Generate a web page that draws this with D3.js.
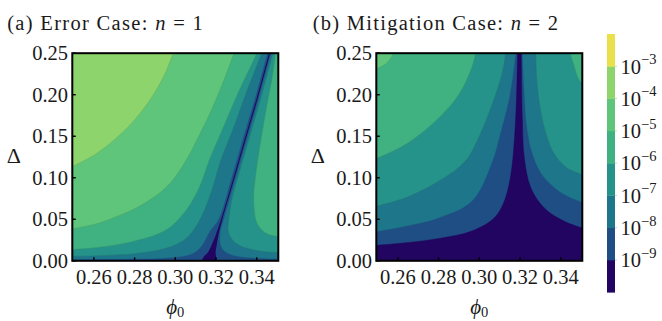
<!DOCTYPE html>
<html><head><meta charset="utf-8">
<script src="https://cdn.jsdelivr.net/npm/d3@7"></script>
<style>
body{margin:0;background:#fff}
svg{display:block}
text{font-family:"Liberation Serif","DejaVu Serif",serif;fill:#1a1a1a}
</style>
</head><body>
<svg id="c" width="662" height="321"></svg>
<script>
// ---------- data ----------
const phiTicks = [0.26, 0.28, 0.30, 0.32, 0.34];
const deltaTicks = [0.00, 0.05, 0.10, 0.15, 0.20, 0.25];
const cbarLevels = [-10, -9, -8, -7, -6, -5, -4, -3, -2];
const cbarTickLevels = [-9, -8, -7, -6, -5, -4, -3];
// band colours for [-10,-9], [-9,-8], ..., [-3,-2]
const bandColors = ["#210560", "#1e4e83", "#1e768a", "#26938b", "#40b180", "#5ec57a", "#8cd46b", "#e9e04c"];

// Panel (a): contour lines in (phi0, Delta)
const aC4L = [[0.25,0.110],[0.2606,0.128],[0.272,0.150],[0.2801,0.170],[0.2882,0.196],[0.2947,0.224],[0.2996,0.25]];
const aC5L = [[0.25,0.037],[0.262,0.045],[0.2713,0.0534],[0.28,0.0625],[0.2876,0.0735],[0.294,0.085],[0.2989,0.0976],[0.3055,0.1217],[0.3105,0.145],[0.3175,0.18],[0.3235,0.215],[0.3295,0.25]];
const aC6L = [[0.25,0.0129],[0.2638,0.0165],[0.2794,0.0233],[0.2957,0.0373],[0.3055,0.0614],[0.312,0.0895],[0.3168,0.1217],[0.3235,0.16],[0.3305,0.2],[0.3409,0.25]];
const aC7L = [[0.25,0.0052],[0.265,0.0065],[0.2794,0.0084],[0.2957,0.0153],[0.3055,0.0273],[0.312,0.049],[0.3175,0.0815],[0.3222,0.12],[0.3286,0.16],[0.3345,0.2],[0.3432,0.25]];
const aC8L = [[0.25,0.0018],[0.28,0.0024],[0.295,0.0035],[0.305,0.006],[0.310,0.011],[0.3135,0.02],[0.3168,0.035],[0.3212,0.05],[0.3276,0.1],[0.3335,0.15],[0.3396,0.2],[0.3456,0.25]];
const aC8R = [[0.3476,0.25],[0.3416,0.2],[0.3357,0.15],[0.3298,0.1],[0.3239,0.05],[0.3222,0.035],[0.3222,0.02],[0.3240,0.012],[0.328,0.007],[0.336,0.004],[0.35,0.0022]];
const aC7R = [[0.3484,0.25],[0.3425,0.2],[0.3366,0.15],[0.3307,0.1],[0.3279,0.075],[0.3263,0.05],[0.3260,0.035],[0.3278,0.026],[0.331,0.019],[0.337,0.014],[0.344,0.011],[0.35,0.0095]];
const aC6R = [[0.3494,0.25],[0.3475,0.22],[0.3452,0.19],[0.3430,0.16],[0.3410,0.13],[0.3393,0.10],[0.3385,0.08],[0.3388,0.06],[0.3398,0.047],[0.3425,0.037],[0.3465,0.031],[0.35,0.029]];
const aSpikeL = [[0.3121,0],[0.3140,0.005],[0.3160,0.01],[0.3180,0.02],[0.3197,0.03],[0.3225,0.05],[0.3286,0.1],[0.3345,0.15],[0.3405,0.2],[0.3465,0.25]];
const aSpikeR = [[0.3470,0.25],[0.3410,0.2],[0.3350,0.15],[0.3291,0.1],[0.3231,0.05],[0.3211,0.03],[0.3204,0.02],[0.3198,0.01],[0.3200,0.005],[0.3203,0]];

// Panel (b)
const bC5L = [[0.25,0.228],[0.2545,0.238],[0.259,0.25]];
const bC6L = [[0.25,0.120],[0.2638,0.140],[0.2801,0.172],[0.2899,0.200],[0.2963,0.2325],[0.2986,0.25]];
const bC7L = [[0.25,0.0639],[0.2638,0.0759],[0.2801,0.096],[0.2931,0.12],[0.3000,0.15],[0.3074,0.196],[0.3115,0.2285],[0.3131,0.25]];
const bC8L = [[0.25,0.034],[0.2638,0.0418],[0.2801,0.0518],[0.2963,0.0719],[0.3058,0.116],[0.3106,0.156],[0.3150,0.2],[0.3180,0.25]];
const bC9L = [[0.25,0.018],[0.2638,0.0217],[0.2801,0.0269],[0.2963,0.0358],[0.3074,0.0518],[0.3123,0.0719],[0.3155,0.104],[0.3175,0.156],[0.3185,0.216],[0.3188,0.25]];
const bC9R = [[0.3206,0.25],[0.3211,0.176],[0.3221,0.124],[0.3253,0.088],[0.3318,0.0639],[0.3416,0.0478],[0.35,0.037]];
const bC8R = [[0.3212,0.25],[0.3222,0.2],[0.3235,0.16],[0.326,0.13],[0.3305,0.105],[0.337,0.088],[0.344,0.077],[0.35,0.068]];
const bC7R = [[0.3277,0.25],[0.3282,0.22],[0.3295,0.19],[0.332,0.16],[0.3365,0.13],[0.343,0.112],[0.35,0.1016]];
const bC6R = [[0.3440,0.25],[0.3465,0.235],[0.349,0.218],[0.35,0.207]];

// ---------- drawing ----------
const svg = d3.select("#c");
const FS = 20.5;
const phiDomain = [0.2494, 0.3506];
const deltaDomain = [0, 0.25];
const y = d3.scaleLinear().domain(deltaDomain).range([260.8, 53.2]);

function ext(pts){
  const out = pts.map(p => p.slice());
  const fix = p => {
    if (p[0] <= 0.25) p[0] = phiDomain[0] - 0.003;
    if (p[0] >= 0.35) p[0] = phiDomain[1] + 0.003;
    if (p[1] >= 0.25) p[1] = 0.254;
    if (p[1] <= 0) p[1] = -0.004;
  };
  fix(out[0]); fix(out[out.length-1]);
  return out;
}

function drawPanel(idx, x0, title, layers, lines){
  const x = d3.scaleLinear().domain(phiDomain).range([x0, x0 + 206]);
  const g = svg.append("g");
  const cid = "clip" + idx;
  svg.append("clipPath").attr("id", cid).append("rect")
    .attr("x", x(phiDomain[0])).attr("y", y(0.25))
    .attr("width", x(phiDomain[1]) - x(phiDomain[0])).attr("height", y(0) - y(0.25));
  const pg = g.append("g").attr("clip-path", `url(#${cid})`);
  const line = d3.line().x(d => x(d[0])).y(d => y(d[1])).curve(d3.curveCatmullRom.alpha(0.5));
  const cornerMap = {TL: [0.2, 0.3], TR: [0.4, 0.3], BL: [0.2, -0.05], BR: [0.4, -0.05]};
  pg.append("rect").attr("x", x(0.2)).attr("y", y(0.3))
    .attr("width", x(0.4) - x(0.2)).attr("height", y(-0.05) - y(0.3))
    .attr("fill", bandColors[layers.bg]);
  layers.polys.forEach(L => {
    let d = "";
    L.parts.forEach((part, i) => {
      const s = line(ext(part));
      d += i === 0 ? s : "L" + s.slice(1);
    });
    L.corners.forEach(c => { const p = cornerMap[c]; d += `L${x(p[0])},${y(p[1])}`; });
    d += "Z";
    const p = pg.append("path").attr("d", d).attr("fill", bandColors[L.band]);
    if (!L.thin) p.attr("stroke", bandColors[L.band]).attr("stroke-width", 0.4);
  });
  lines.forEach(pts => {
    pg.append("path").attr("d", line(ext(pts))).attr("fill", "none")
      .attr("stroke", "rgba(40,60,40,0.16)").attr("stroke-width", 0.8);
  });
  // frame
  g.append("rect").attr("x", x(phiDomain[0])).attr("y", y(0.25))
    .attr("width", x(phiDomain[1]) - x(phiDomain[0])).attr("height", y(0) - y(0.25))
    .attr("fill", "none").attr("stroke", "#000").attr("stroke-width", 2);
  // ticks
  phiTicks.forEach(t => {
    g.append("line").attr("x1", x(t)).attr("x2", x(t)).attr("y1", y(0)).attr("y2", y(0) - 3.5)
      .attr("stroke", "#000").attr("stroke-width", 1.4);
    g.append("text").attr("x", x(t)).attr("y", 284).attr("text-anchor", "middle")
      .attr("font-size", FS).text(d3.format(".2f")(t));
  });
  deltaTicks.forEach(t => {
    g.append("line").attr("x1", x0).attr("x2", x0 + 3.5).attr("y1", y(t)).attr("y2", y(t))
      .attr("stroke", "#000").attr("stroke-width", 1.4);
    g.append("text").attr("x", x0 - 4.3).attr("y", y(t) + 6.9).attr("text-anchor", "end")
      .attr("font-size", FS).text(d3.format(".2f")(t));
  });
  // axis labels
  const xl = g.append("text").attr("x", x0 + 103).attr("y", 313.5).attr("text-anchor", "middle").attr("font-size", 21);
  xl.append("tspan").attr("font-style", "italic").text("\u03D5");
  xl.append("tspan").attr("font-size", 14.5).attr("dy", 3).text("0");
  g.append("text").attr("x", x0 - 65.5).attr("y", 163).attr("font-size", 22).text("\u0394");
  // title
  const tt = g.append("text").attr("x", title.x).attr("y", 29.5).attr("font-size", FS)
    .attr("textLength", title.w).attr("lengthAdjust", "spacing");
  tt.append("tspan").text(title.pre);
  tt.append("tspan").attr("font-style", "italic").text("n");
  tt.append("tspan").text(title.post);
}

drawPanel(0, 72.3, {x: 7.2, w: 195.5, pre: "(a) Error Case: ", post: " = 1"}, {
  bg: 1,
  polys: [
    {parts: [aC8L], corners: ["TL"], band: 2},
    {parts: [aC8R], corners: ["BR", "TR"], band: 2},
    {parts: [aC7L], corners: ["TL"], band: 3},
    {parts: [aC7R], corners: ["BR", "TR"], band: 3},
    {parts: [aC6L], corners: ["TL"], band: 4},
    {parts: [aC6R], corners: ["BR", "TR"], band: 4},
    {parts: [aC5L], corners: ["TL"], band: 5},
    {parts: [aC4L], corners: ["TL"], band: 6},
    {parts: [aSpikeL, aSpikeR], corners: [], band: 0, thin: true}
  ]
}, [aC4L, aC5L, aC6L, aC7L, aC6R, aC7R]);

drawPanel(1, 376.3, {x: 312.7, w: 245.3, pre: "(b) Mitigation Case: ", post: " = 2"}, {
  bg: 1,
  polys: [
    {parts: [bC9L, bC9R], corners: ["BR", "BL"], band: 0},
    {parts: [bC8L], corners: ["TL"], band: 2},
    {parts: [bC8R], corners: ["TR"], band: 2},
    {parts: [bC7L], corners: ["TL"], band: 3},
    {parts: [bC7R], corners: ["TR"], band: 3},
    {parts: [bC6L], corners: ["TL"], band: 4},
    {parts: [bC6R], corners: ["TR"], band: 4},
    {parts: [bC5L], corners: ["TL"], band: 5}
  ]
}, [bC5L, bC6L, bC7L, bC6R, bC7R]);

// colour bar
const cy = d3.scaleLinear().domain([-10, -2]).range([292.3, 34]);
const cb = svg.append("g");
d3.range(bandColors.length).forEach(i => {
  cb.append("rect").attr("x", 607).attr("width", 8)
    .attr("y", cy(cbarLevels[i + 1])).attr("height", cy(cbarLevels[i]) - cy(cbarLevels[i + 1]) + 0.3)
    .attr("fill", bandColors[i]);
});
cbarTickLevels.forEach(l => {
  cb.append("line").attr("x1", 615).attr("x2", 617).attr("y1", cy(l)).attr("y2", cy(l))
    .attr("stroke", "#cfcfcf").attr("stroke-width", 1);
  const t = cb.append("text").attr("x", 620.5).attr("y", cy(l) + 7.3).attr("font-size", FS);
  t.append("tspan").text("10");
  t.append("tspan").attr("font-size", 14.5).attr("dy", -9.5).text("\u2212" + Math.abs(l));
});
</script>
</body></html>
